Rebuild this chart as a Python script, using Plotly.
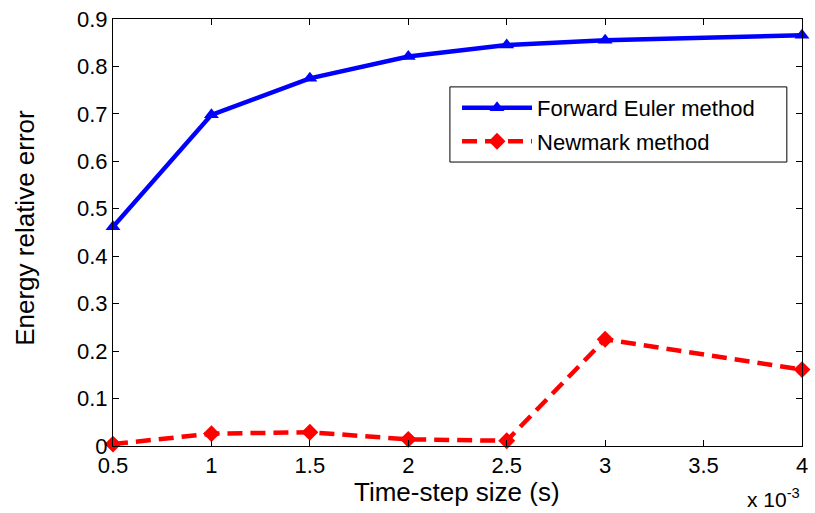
import plotly.graph_objects as go

step_size = [0.5, 1, 1.5, 2, 2.5, 3, 4]
euler_err = [0.462, 0.698, 0.775, 0.821, 0.845, 0.855, 0.866]
newmark_err = [0.004, 0.026, 0.029, 0.014, 0.011, 0.225, 0.161]
x_ticks = [0.5, 1, 1.5, 2, 2.5, 3, 3.5, 4]
x_ticktext = ["0.5", "1", "1.5", "2", "2.5", "3", "3.5", "4"]
y_ticks = [0, 0.1, 0.2, 0.3, 0.4, 0.5, 0.6, 0.7, 0.8, 0.9]
y_ticktext = ["0", "0.1", "0.2", "0.3", "0.4", "0.5", "0.6", "0.7", "0.8", "0.9"]

FONT = "Liberation Sans, Arial, sans-serif"

fig = go.Figure()
fig.add_trace(go.Scatter(
    x=step_size, y=euler_err, mode="lines+markers", name="Forward Euler method",
    legendgroup="a",
    line=dict(color="#0000ff", width=4.5),
    marker=dict(symbol="triangle-up", size=13, color="#0000ff"),
    cliponaxis=False,
))
fig.add_trace(go.Scatter(
    x=step_size, y=newmark_err, mode="lines+markers", name="Newmark method",
    legendgroup="b",
    line=dict(color="#ff0000", width=4.5, dash="15px,8px"),
    marker=dict(symbol="diamond", size=13, color="#ff0000"),
    cliponaxis=False,
))

axis_common = dict(
    showline=True, linecolor="black", linewidth=1, mirror="allticks",
    ticks="inside", ticklen=6, tickcolor="black", showgrid=False, zeroline=False,
    tickfont=dict(family=FONT, size=22, color="black"),
)
fig.update_xaxes(range=[0.5, 4], tickvals=x_ticks, ticktext=x_ticktext, **axis_common)
fig.update_yaxes(range=[0, 0.9], tickvals=y_ticks, ticktext=y_ticktext, **axis_common)

# axis titles
fig.add_annotation(xref="paper", yref="paper", x=0.4993, y=-0.1077, xanchor="center", yanchor="middle",
                   text="Time-step size (s)", showarrow=False,
                   font=dict(family=FONT, size=26, color="black"))
fig.add_annotation(xref="paper", yref="paper", x=-0.128, y=0.5105, xanchor="center", yanchor="middle",
                   text="Energy relative error", showarrow=False, textangle=-90,
                   font=dict(family=FONT, size=26, color="black"))
fig.add_annotation(xref="paper", yref="paper", x=1.0, y=-0.086, xanchor="right", yanchor="top",
                   text="x 10<sup>-3</sup>", showarrow=False,
                   font=dict(family=FONT, size=21, color="black"))

# legend box
fig.add_shape(type="rect", xref="paper", yref="paper", x0=0.489, x1=0.978, y0=0.665, y1=0.841,
              line=dict(color="black", width=1), fillcolor="white", layer="above")

fig.update_layout(
    width=815, height=513,
    margin=dict(l=113, r=7, t=19, b=67),
    paper_bgcolor="white", plot_bgcolor="white",
    showlegend=True,
    legend=dict(x=0.4993, y=0.841, xanchor="left", yanchor="top",
                bgcolor="rgba(0,0,0,0)", borderwidth=0,
                font=dict(family=FONT, size=22, color="black"),
                itemwidth=70, tracegroupgap=2),
)

fig.write_html("out.html")
